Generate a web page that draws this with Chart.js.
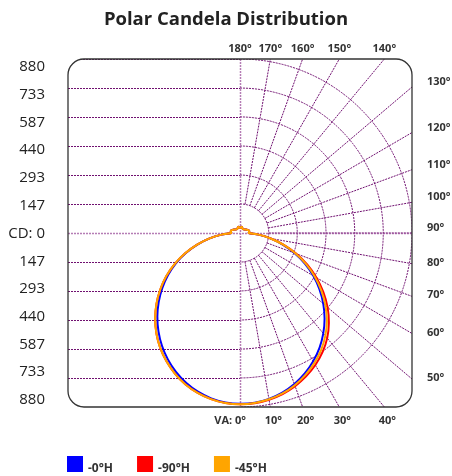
<!DOCTYPE html>
<html>
<head>
<meta charset="utf-8">
<script src="https://cdn.jsdelivr.net/npm/chart.js@4/dist/chart.umd.min.js"></script>
<style>
  html, body { margin: 0; padding: 0; background: #fff; }
  #wrap { width: 452px; height: 476px; }
</style>
</head>
<body>
<div id="wrap"><canvas id="polar-chart"></canvas></div>
<script>
// --- Datos ---
const verticalAngles = [0, 5, 10, 15, 20, 25, 30, 35, 40, 45, 50, 55, 60, 65, 70, 75, 80, 85, 90,
  95, 100, 105, 110, 115, 120, 125, 130, 135, 140, 145, 150, 155, 160, 165, 170, 175, 180];

// candela, lado derecho = plano indicado, lado izquierdo = plano opuesto
const cd0HRight = [865, 862, 852, 836, 813, 784, 749, 709, 663, 612, 556, 496, 433, 366, 296, 226, 158, 95, 45,
  46, 48, 47, 43, 39, 35, 31, 28, 26, 25, 25, 26, 28, 31, 33, 30, 26, 23];
const cd0HLeft = [864, 860, 849, 831, 806, 775, 738, 696, 649, 598, 543, 485, 425, 362, 295, 226, 158, 95, 45,
  46, 48, 47, 43, 39, 35, 31, 28, 26, 25, 25, 26, 28, 31, 33, 30, 26, 23];
const cd90HRight = [866, 864, 856, 843, 824, 800, 771, 736, 694, 643, 585, 520, 452, 380, 307, 232, 160, 96, 45,
  46, 48, 47, 43, 39, 35, 31, 28, 26, 25, 25, 26, 28, 31, 33, 30, 26, 23];
const cd90HLeft = [866, 863, 853, 837, 815, 786, 751, 711, 665, 614, 558, 498, 435, 367, 297, 227, 158, 95, 45,
  46, 48, 47, 43, 39, 35, 31, 28, 26, 25, 25, 26, 28, 31, 33, 30, 26, 23];
const cd45HRight = [866, 863, 854, 840, 819, 792, 760, 723, 679, 629, 571, 508, 442, 373, 301, 229, 159, 96, 45,
  46, 48, 47, 43, 39, 35, 31, 28, 26, 25, 25, 26, 28, 31, 33, 30, 26, 23];
const cd45HLeft = [866, 863, 853, 837, 815, 786, 751, 711, 665, 614, 558, 498, 435, 367, 297, 227, 158, 95, 45,
  46, 48, 47, 43, 39, 35, 31, 28, 26, 25, 25, 26, 28, 31, 33, 30, 26, 23];

const seriesLabels = ['-0°H', '-90°H', '-45°H'];
const seriesColors = ['#0000ff', '#ff0000', '#ffa500'];

const cdTicks = [147, 293, 440, 587, 733, 880];
const radialAngles = [10, 20, 30, 40, 50, 60, 70, 80, 90, 100, 110, 120, 130, 140, 150, 160, 170];
const topAngleLabels = [180, 170, 160, 150, 140];
const sideAngleLabels = [130, 120, 110, 100, 90, 80, 70, 60, 50];
const bottomAngleLabels = [0, 10, 20, 30, 40];

const CD_MAX = 880;
const rad = d => d * Math.PI / 180;

/**
 * Convierte (ángulo, candela) en puntos x/y: 0° hacia abajo, izquierda = plano opuesto.
 */
function toPoints(left, right) {
    const pts = [];
    for (let i = verticalAngles.length - 1; i >= 0; i--) {
        const a = rad(verticalAngles[i]);
        pts.push({ x: -left[i] * Math.sin(a), y: -left[i] * Math.cos(a) });
    }
    for (let i = 1; i < verticalAngles.length; i++) {
        const a = rad(verticalAngles[i]);
        pts.push({ x: right[i] * Math.sin(a), y: -right[i] * Math.cos(a) });
    }
    return pts;
}

function roundRectPath(ctx, l, t, r, b, rr) {
    ctx.beginPath();
    ctx.moveTo(l + rr, t);
    ctx.lineTo(r - rr, t);
    ctx.arcTo(r, t, r, t + rr, rr);
    ctx.lineTo(r, b - rr);
    ctx.arcTo(r, b, r - rr, b, rr);
    ctx.lineTo(l + rr, b);
    ctx.arcTo(l, b, l, b - rr, rr);
    ctx.lineTo(l, t + rr);
    ctx.arcTo(l, t, l + rr, t, rr);
    ctx.closePath();
}

// Rejilla polar (círculos + radios) y marco redondeado
const polarGrid = {
    id: 'polarGrid',
    beforeDatasetsDraw(chart) {
        const { ctx, chartArea: ca, scales: { x, y } } = chart;
        const x0 = x.getPixelForValue(0), y0 = y.getPixelForValue(0);
        const px = (vx, vy) => [x.getPixelForValue(vx), y.getPixelForValue(vy)];

        ctx.save();
        roundRectPath(ctx, ca.left, ca.top, ca.right, ca.bottom, 16);
        ctx.clip();
        ctx.lineWidth = 1;
        ctx.setLineDash([2, 1]);
        ctx.strokeStyle = 'rgb(112, 16, 112)';

        // líneas horizontales del lado izquierdo
        cdTicks.forEach(v => {
            [v, -v].forEach(s => {
                const yy = Math.round(y.getPixelForValue(s)) + 0.5;
                ctx.beginPath();
                ctx.moveTo(ca.left, yy);
                ctx.lineTo(x0, yy);
                ctx.stroke();
            });
        });

        // círculos (mitad derecha)
        cdTicks.forEach(v => {
            ctx.beginPath();
            ctx.ellipse(x0, y0, x.getPixelForValue(v) - x0, y0 - y.getPixelForValue(v), 0, -Math.PI / 2, Math.PI / 2);
            ctx.stroke();
        });

        // radios
        radialAngles.forEach(d => {
            const a = rad(d);
            const [ax, ay] = px(cdTicks[0] * Math.sin(a), -cdTicks[0] * Math.cos(a));
            const [bx, by] = px(1400 * Math.sin(a), -1400 * Math.cos(a));
            ctx.beginPath();
            ctx.moveTo(ax, ay);
            ctx.lineTo(bx, by);
            ctx.stroke();
        });

        // ejes centrales
        ctx.strokeStyle = 'rgba(150, 70, 150, 0.7)';
        ctx.lineWidth = 1.5;
        ctx.beginPath();
        ctx.moveTo(Math.round(x0) + 0.5, ca.top);
        ctx.lineTo(Math.round(x0) + 0.5, ca.bottom);
        ctx.moveTo(ca.left, Math.round(y0) + 0.5);
        ctx.lineTo(ca.right, Math.round(y0) + 0.5);
        ctx.stroke();
        ctx.restore();
    },
    afterDraw(chart) {
        const { ctx, chartArea: ca, scales: { x, y } } = chart;

        // marco
        ctx.save();
        ctx.strokeStyle = '#333';
        ctx.lineWidth = 1.3;
        roundRectPath(ctx, ca.left, ca.top, ca.right, ca.bottom, 16);
        ctx.stroke();

        // etiquetas de ángulos
        ctx.fillStyle = '#333';
        ctx.font = 'bold 11px "Open Sans"';
        ctx.textBaseline = 'middle';
        ctx.textAlign = 'center';
        topAngleLabels.forEach(d => {
            const xx = x.getPixelForValue(CD_MAX * Math.tan(rad(180 - d)));
            ctx.fillText(d + '°', xx, ca.top - 10);
        });
        ctx.textAlign = 'left';
        sideAngleLabels.forEach(d => {
            const a = rad(d);
            const yy = y.getPixelForValue(-CD_MAX * Math.cos(a) / Math.sin(a));
            ctx.fillText(d + '°', ca.right + 15, yy - (d >= 90 ? 5 : 1));
        });
        bottomAngleLabels.forEach(d => {
            const xx = x.getPixelForValue(CD_MAX * Math.tan(rad(d)));
            if (d === 0) {
                ctx.textAlign = 'right';
                ctx.fillText('VA: 0°', xx + 6, ca.bottom + 14);
            } else {
                ctx.textAlign = 'center';
                ctx.fillText(d + '°', xx + 3, ca.bottom + 14);
            }
        });

        // leyenda
        let lx = ca.left - 1;
        const ly = ca.bottom + 49;
        ctx.font = 'bold 12px "Open Sans"';
        ctx.textAlign = 'left';
        ctx.textBaseline = 'alphabetic';
        chart.data.datasets.forEach(ds => {
            ctx.fillStyle = ds.borderColor;
            ctx.fillRect(lx, ly, 16, 16);
            ctx.fillStyle = '#333';
            const tx = lx + 21;
            ctx.fillText(ds.label, tx, ly + 16);
            lx = tx + ctx.measureText(ds.label).width + 24;
        });
        ctx.restore();
    }
};

const seriesData = [
    toPoints(cd0HLeft, cd0HRight),
    toPoints(cd90HLeft, cd90HRight),
    toPoints(cd45HLeft, cd45HRight)
];
const drawOrder = [2, 1, 0]; // naranja encima

const labelTicks = [880, 733, 587, 440, 293, 147, 0, -147, -293, -440, -587, -733, -880];

new Chart(document.getElementById('polar-chart'), {
    type: 'scatter',
    data: {
        datasets: seriesLabels.map((label, i) => ({
            label: label,
            data: seriesData[i],
            borderColor: seriesColors[i],
            backgroundColor: seriesColors[i],
            showLine: true,
            borderWidth: 2,
            pointRadius: 0,
            tension: 0.3,
            order: drawOrder[i]
        }))
    },
    options: {
        responsive: true,
        maintainAspectRatio: false,
        animation: false,
        layout: { padding: { top: 0, left: 0, right: 0, bottom: 69 } },
        scales: {
            x: { type: 'linear', min: -CD_MAX, max: CD_MAX, display: false },
            y: {
                type: 'linear',
                position: 'right',
                min: -CD_MAX,
                max: CD_MAX,
                grid: { display: false },
                border: { display: false },
                ticks: { display: false },
                afterFit: axis => { axis.width = 40; } // espacio para 130°..50°
            },
            yLabels: {
                type: 'linear',
                position: 'left',
                min: -917,
                max: 922,
                grid: { display: false },
                border: { display: false },
                afterBuildTicks: axis => { axis.ticks = labelTicks.map(v => ({ value: v })); },
                afterFit: axis => { axis.width = 68; },
                ticks: {
                    autoSkip: false,
                    padding: 15,
                    color: '#222',
                    font: { family: '"Open Sans"', size: 15 },
                    callback: v => v === 0 ? 'CD: 0' : String(Math.abs(v))
                }
            }
        },
        plugins: {
            legend: { display: false },
            tooltip: { enabled: false },
            title: {
                display: true,
                text: 'Polar Candela Distribution',
                color: '#222',
                font: { family: '"Open Sans"', size: 18.5, weight: 'bold' },
                padding: { top: 9, bottom: 27.8 }
            }
        }
    },
    plugins: [polarGrid]
});
</script>
</body>
</html>
